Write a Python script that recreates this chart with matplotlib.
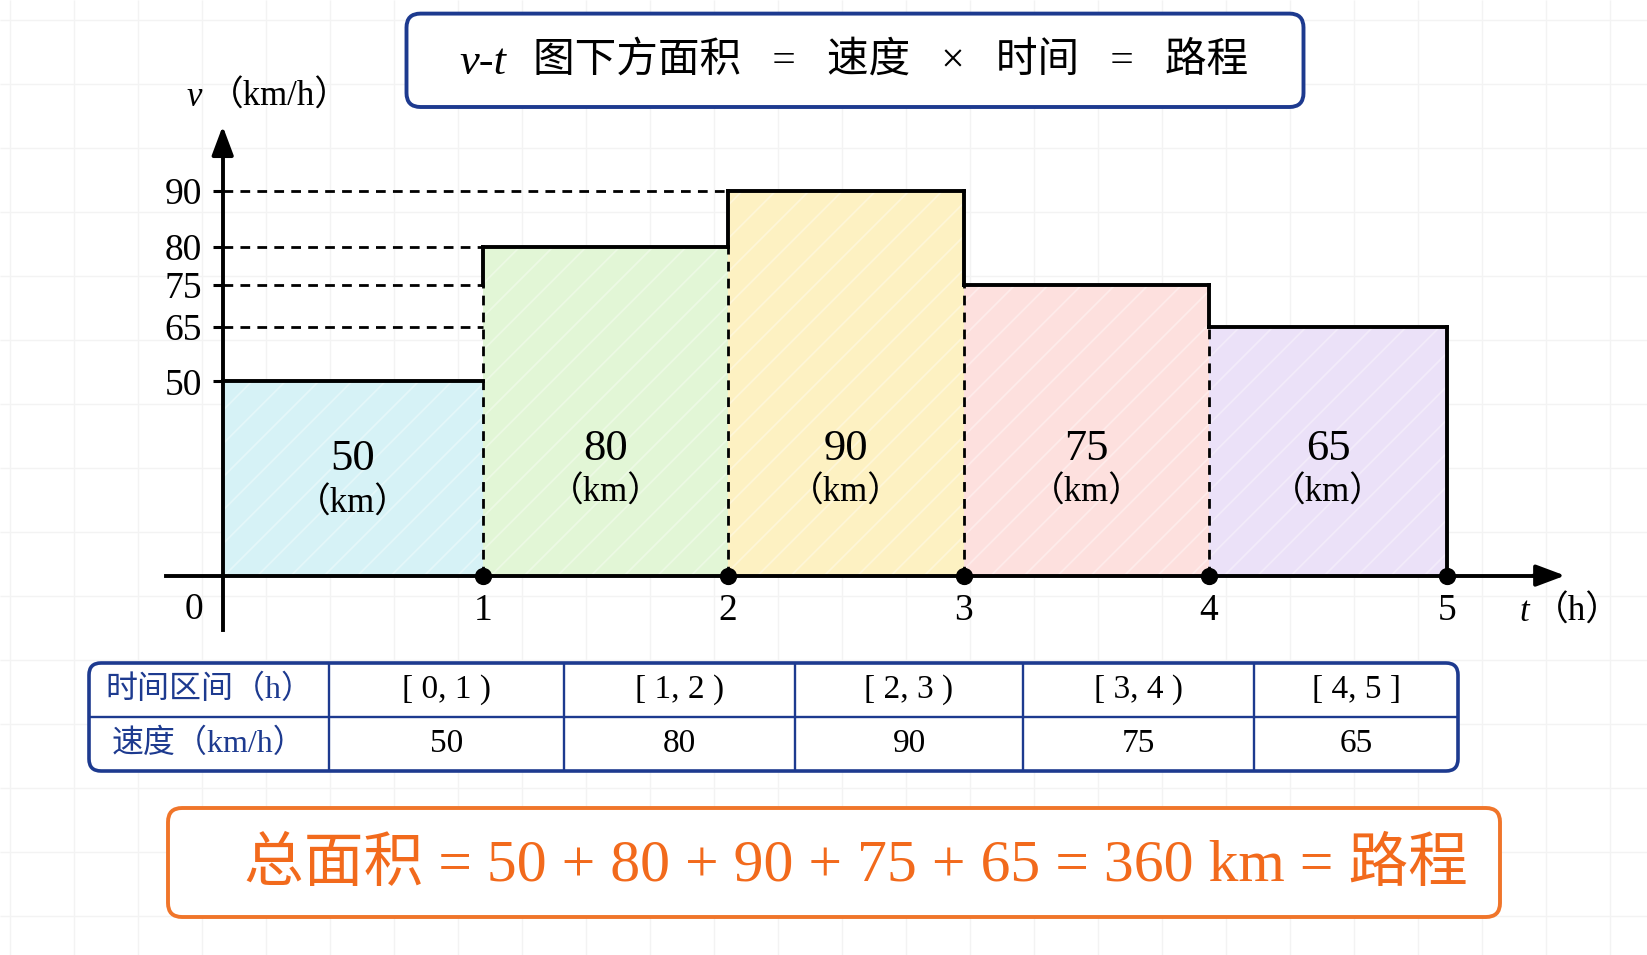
import numpy as np
import matplotlib
matplotlib.use('Agg')
import matplotlib.pyplot as plt
from matplotlib.patches import FancyBboxPatch
from matplotlib.colors import to_rgb

# ---------------- data ----------------
t_edges = [0, 1, 2, 3, 4, 5]
speeds = [50, 80, 90, 75, 65]
y_ticks = [50, 65, 75, 80, 90]
x_ticks = [1, 2, 3, 4, 5]
interval_labels = ['[ 0, 1 )', '[ 1, 2 )', '[ 2, 3 )', '[ 3, 4 )', '[ 4, 5 ]']
row_headers = ['时间区间（h）', '速度（km/h）']
bar_colors = ['#d6f2f6', '#e2f6d6', '#fdf1c2', '#fde0de', '#ebe1f8']
title_var = 'v-t'
title_text = '图下方面积   =   速度   ×   时间   =   路程'
unit = 'km'
y_label = ('v', '（km/h）')
x_label = ('t', '（h）')

SERIF = ['Liberation Serif', 'Noto Sans CJK SC']
NAVY = '#1d3a8f'
ORANGE = '#f0752a'
TEXT_ORANGE = '#f26a1c'

W, H = 1647, 955
fig = plt.figure(figsize=(W / 100, H / 100), dpi=100)
fig.patch.set_facecolor('white')

# ---------------- background / overlay axes (pixel coords) ----------------
bg = fig.add_axes([0, 0, 1, 1], zorder=0)
bg.set_xlim(0, W)
bg.set_ylim(H, 0)
bg.axis('off')
grid_step = 64
bg.vlines(np.arange(10, W, grid_step), 0, H, color='#f3f3f3', lw=1, zorder=0)
bg.hlines(np.arange(20, H, grid_step), 0, W, color='#f3f3f3', lw=1, zorder=0)

# ---------------- scales ----------------
def piecewise(kv, kp):
    kv = np.asarray(kv, float)
    kp = np.asarray(kp, float)

    def fwd(v):
        return np.interp(np.asarray(v, float), kv, kp)

    def inv(p):
        return np.interp(np.asarray(p, float), kp, kv)
    return fwd, inv

# x: pixel positions of ticks (layout)
x_knots_v = [-1, 0, 1, 2, 3, 4, 5, 6]
x_knots_p = [222.7 - 245, 222.7, 483, 728, 964, 1209, 1447.5, 1447.5 + 245]
# y: heights above the axis of the tick levels (layout)
y_knots_v = [-100, 0, 50, 65, 75, 80, 90, 200]
y_knots_p = [-388.6, 0, 194.3, 248.9, 290.9, 328.8, 384.4, 995.9]

ax = fig.add_axes([166 / W, 1 - 640 / H, (1580 - 166) / W, 520 / H], zorder=2)
ax.patch.set_visible(False)
ax.set_xscale('function', functions=piecewise(x_knots_v, x_knots_p))
ax.set_yscale('function', functions=piecewise(y_knots_v, y_knots_p))
ax.set_xlim(-0.2314, 5.541)
ax.set_ylim(-16.57, 102.8)

# ---------------- bars ----------------
widths = np.diff(t_edges)
ax.bar(t_edges[:-1], speeds, width=widths, align='edge', color=bar_colors,
       linewidth=0, zorder=1)
hatch_cols = [tuple(0.65 * np.array(to_rgb(c)) + 0.35) for c in bar_colors]
plt.rcParams['hatch.linewidth'] = 1.3
ax.bar(t_edges[:-1], speeds, width=widths, align='edge', color='none',
       edgecolor=hatch_cols, hatch='/', linewidth=0, zorder=1.1)

LW = 2.8
DLW = 2.0
DASH = (0, (3.5, 2.6))

def first_reach(yv):
    for i, s in enumerate(speeds):
        if s >= yv:
            return i
    return None

# horizontal dashed guides from y axis to the first bar reaching that level
for yv in y_ticks:
    i = first_reach(yv)
    if i is not None and t_edges[i] > 0:
        ax.hlines(yv, 0, t_edges[i], colors='k', linestyles=DASH, lw=DLW, zorder=3)

# tops
ax.hlines(speeds, t_edges[:-1], t_edges[1:], colors='k', lw=LW, zorder=4,
          capstyle='projecting')
# interior boundaries
for i in range(1, len(speeds)):
    lo, hi = sorted((speeds[i - 1], speeds[i]))
    refs = [yv for yv in y_ticks if first_reach(yv) == i and yv < hi]
    dash_top = max([lo] + refs)
    ax.vlines(t_edges[i], 0, dash_top, colors='k', linestyles=DASH, lw=DLW, zorder=3)
    ax.vlines(t_edges[i], dash_top, hi, colors='k', lw=LW, zorder=4,
              capstyle='projecting')
ax.vlines(t_edges[-1], 0, speeds[-1], colors='k', lw=LW, zorder=4,
          capstyle='projecting')

# bar labels
for i, v in enumerate(speeds):
    cx = (t_edges[i] + t_edges[i + 1]) / 2
    ny = min(0.6 * v, 32.6)
    ax.text(cx, ny, str(v), ha='center', va='center', fontsize=32,
            family=SERIF, zorder=5)
    ax.text(cx, ny - 11.5, '（' + unit + '）', ha='center', va='center',
            fontsize=25, family=SERIF, zorder=5)

# dots on the t axis
ax.scatter(t_edges[1:], [0] * (len(t_edges) - 1), s=130, color='k', zorder=6,
           clip_on=False)

# ---------------- axes lines & arrows ----------------
for side in ('top', 'right'):
    ax.spines[side].set_visible(False)
ax.spines['left'].set_position(('data', 0))
ax.spines['bottom'].set_position(('data', 0))
ax.spines['left'].set_bounds(-14, 99)
ax.spines['bottom'].set_bounds(-0.23, 5.4)
for side in ('left', 'bottom'):
    ax.spines[side].set_linewidth(LW)
    ax.spines[side].set_zorder(4)

arrow_kw = dict(arrowstyle='-|>,head_length=0.8,head_width=0.3', color='k',
                lw=LW, shrinkA=0, shrinkB=0, mutation_scale=22)
ax.annotate('', xy=(0, 101.7), xytext=(0, 97), arrowprops=arrow_kw,
            annotation_clip=False)
ax.annotate('', xy=(5.48, 0), xytext=(5.35, 0), arrowprops=arrow_kw,
            annotation_clip=False)

ax.set_yticks(y_ticks, labels=[str(v) for v in y_ticks], fontsize=27,
              family=SERIF)
ax.tick_params(axis='y', direction='out', length=7, width=2.2, pad=8)
ax.set_xticks(x_ticks, labels=[str(v) for v in x_ticks], fontsize=27,
              family=SERIF)
ax.tick_params(axis='x', length=0, pad=13)
ax.annotate('0', xy=(0, 0), xytext=(-29, -34), textcoords='offset pixels',
            ha='center', va='center', fontsize=27, family=SERIF)

# axis labels
bg.text(194, 97, y_label[0], ha='center', va='center', fontsize=25,
        family=SERIF, style='italic')
bg.text(279, 97, y_label[1], ha='center', va='center', fontsize=25,
        family=SERIF)
bg.text(1524, 612, x_label[0], ha='center', va='center', fontsize=25,
        family=SERIF, style='italic')
bg.text(1577, 612, x_label[1], ha='center', va='center', fontsize=25,
        family=SERIF)

# ---------------- title box ----------------
bg.add_patch(FancyBboxPatch((406.5, 13.6), 897, 93.4,
                            boxstyle='round,pad=0,rounding_size=14',
                            fc='white', ec=NAVY, lw=2.8, zorder=3))
bg.text(459, 63, title_var, ha='left', va='center', fontsize=32,
        family=SERIF, style='italic', zorder=4)
bg.text(533, 61, title_text, ha='left', va='center', fontsize=30,
        family=SERIF, zorder=4)

# ---------------- table ----------------
tx0, tx1, ty0, ty1, tym = 89, 1458, 663, 771, 717
col_x = [329, 564, 795, 1023, 1254]
bg.add_patch(FancyBboxPatch((tx0, ty0), tx1 - tx0, ty1 - ty0,
                            boxstyle='round,pad=0,rounding_size=12',
                            fc='white', ec=NAVY, lw=2.6, zorder=3))
bg.hlines(tym, tx0, tx1, color=NAVY, lw=1.7, zorder=4)
bg.vlines(col_x, ty0, ty1, color=NAVY, lw=1.7, zorder=4)
row_y = [(ty0 + tym) / 2, (tym + ty1) / 2]
bg.text((tx0 + col_x[0]) / 2, row_y[0], row_headers[0], ha='center',
        va='center', fontsize=23, color=NAVY, family=SERIF, zorder=5)
bg.text((tx0 + col_x[0]) / 2, row_y[1], row_headers[1], ha='center',
        va='center', fontsize=23, color=NAVY, family=SERIF, zorder=5)
edges = col_x + [tx1]
for j in range(len(speeds)):
    cx = (edges[j] + edges[j + 1]) / 2
    bg.text(cx, row_y[0], interval_labels[j], ha='center', va='center',
            fontsize=24, family=SERIF, zorder=5)
    bg.text(cx, row_y[1], str(speeds[j]), ha='center', va='center',
            fontsize=24, family=SERIF, zorder=5)

# ---------------- total box ----------------
bg.add_patch(FancyBboxPatch((168, 808), 1332, 109,
                            boxstyle='round,pad=0,rounding_size=14',
                            fc='white', ec=ORANGE, lw=2.8, zorder=3))
total = sum(speeds)
total_text = '总面积 = ' + ' + '.join(str(v) for v in speeds) + \
    f' = {total} {unit} = 路程'
bg.text(244, 866, total_text, ha='left', va='center', fontsize=43,
        color=TEXT_ORANGE, family=SERIF, zorder=4)

fig.savefig('out.png', dpi=100)
